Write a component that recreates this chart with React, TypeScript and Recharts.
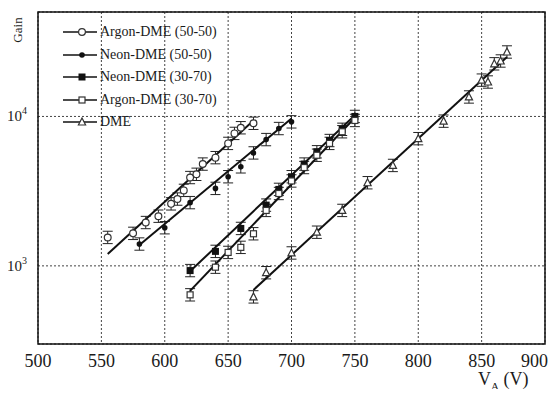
import React from 'react';
import {
  ComposedChart,
  Scatter,
  XAxis,
  YAxis,
  CartesianGrid,
  ErrorBar,
  ReferenceArea,
  Legend,
  Customized,
} from 'recharts';

const FONT = '"Liberation Serif", "DejaVu Serif", serif';
const INK = '#1a1a1a';

const X_TICKS = [500, 550, 600, 650, 700, 750, 800, 850, 900];
const Y_TICKS = [1000, 10000];
const Y_MINOR = [300, 400, 500, 600, 700, 800, 900, 2000, 3000, 4000, 5000, 6000, 7000, 8000, 9000, 20000, 30000, 40000, 50000];
const X_MINOR = Array.from({ length: 41 }, (_, i) => 500 + i * 10);

const SERIES_NAMES = ['Argon-DME (50-50)', 'Neon-DME (50-50)', 'Neon-DME (30-70)', 'Argon-DME (30-70)', 'DME'];

// measured points, anode voltage (V) and gain
const argon5050V = [555, 575, 585, 595, 605, 610, 615, 620, 625, 630, 640, 650, 655, 660, 670];
const argon5050Gain = [1550, 1650, 1950, 2150, 2600, 2800, 3200, 3900, 4100, 4800, 5300, 6600, 7700, 8400, 9000];
const neon5050V = [580, 600, 620, 640, 650, 660, 670, 680, 690, 700];
const neon5050Gain = [1400, 1800, 2650, 3300, 3950, 4600, 5700, 7000, 8300, 9200];
const neon3070V = [620, 640, 660, 680, 690, 700, 710, 720, 730, 740, 750];
const neon3070Gain = [930, 1250, 1780, 2550, 3250, 3950, 4800, 5800, 6900, 8200, 10000];
const argon3070V = [620, 640, 650, 660, 670, 680, 690, 700, 710, 720, 730, 740, 750];
const argon3070Gain = [640, 980, 1230, 1330, 1640, 2350, 3050, 3700, 4550, 5500, 6600, 7900, 9400];
const dmeV = [670, 680, 700, 720, 740, 760, 780, 800, 820, 840, 850, 855, 860, 865, 870];
const dmeGain = [620, 900, 1220, 1680, 2350, 3600, 4700, 7100, 9300, 13500, 17500, 17000, 22500, 23500, 27000];

// fitted lines (end points)
const argon5050FitV = [555, 670];
const argon5050FitGain = [1200, 9400];
const neon5050FitV = [580, 700];
const neon5050FitGain = [1380, 9700];
const neon3070FitV = [620, 750];
const neon3070FitGain = [920, 10200];
const argon3070FitV = [620, 750];
const argon3070FitGain = [680, 9800];
const dmeFitV = [670, 870];
const dmeFitGain = [690, 25000];

const REL_ERR = 0.1;

const toPoints = (v: number[], g: number[]) =>
  v.map((x, i) => ({ v: x, g: g[i], err: [g[i] - g[i] / (1 + REL_ERR), g[i] * REL_ERR] }));
const toFit = (v: number[], g: number[]) => v.map((x, i) => ({ v: x, g: g[i] }));

type Kind = 'openCircle' | 'dot' | 'square' | 'openSquare' | 'triangle';
const MARKERS: Kind[] = ['openCircle', 'dot', 'square', 'openSquare', 'triangle'];

const Marker = ({ kind, cx, cy }: { kind: Kind; cx: number; cy: number }) => {
  if (cx == null || cy == null) return <g />;
  switch (kind) {
    case 'openCircle':
      return <circle cx={cx} cy={cy} r={3.4} fill="#fff" stroke="#333" strokeWidth={1.2} />;
    case 'dot':
      return <circle cx={cx} cy={cy} r={2.8} fill="#111" />;
    case 'square':
      return <rect x={cx - 3.5} y={cy - 3.5} width={7} height={7} fill="#111" />;
    case 'openSquare':
      return <rect x={cx - 3} y={cy - 3} width={6} height={6} fill="#fff" stroke="#333" strokeWidth={1.2} />;
    default:
      return (
        <polygon
          points={`${cx},${cy - 4} ${cx - 3.6},${cy + 3} ${cx + 3.6},${cy + 3}`}
          fill="#fff"
          stroke="#333"
          strokeWidth={1.2}
        />
      );
  }
};

const PowTick = (props: any) => {
  const { x, y, payload } = props;
  const exp = Math.round(Math.log10(payload.value));
  return (
    <text x={x - 3} y={y + 5} textAnchor="end" fontFamily={FONT} fontSize={15} fill={INK}>
      10
      <tspan fontSize={10} dy={-7}>
        {exp}
      </tspan>
    </text>
  );
};

const LegendBox = () => (
  <div style={{ fontFamily: FONT, fontSize: 14, color: INK }}>
    {SERIES_NAMES.map((name, i) => (
      <div key={name} style={{ display: 'flex', alignItems: 'center', height: 22.5 }}>
        <svg width={36} height={10} style={{ flex: 'none' }}>
          <line x1={0} y1={5} x2={34} y2={5} stroke="#111" strokeWidth={1.6} />
          <Marker kind={MARKERS[i]} cx={19} cy={5} />
        </svg>
        <span style={{ marginLeft: 1, whiteSpace: 'nowrap' }}>{name}</span>
      </div>
    ))}
  </div>
);

const AxisTitles = () => (
  <g fontFamily={FONT} fill={INK}>
    <text transform="translate(9,22) rotate(-90)" textAnchor="middle" fontSize={13} dy="0.35em">
      Gain
    </text>
    <text x={470} y={377} fontSize={18}>
      V
      <tspan fontSize={11} dx={0} dy={5}>
        A
      </tspan>
      <tspan dy={-5}> (V)</tspan>
    </text>
  </g>
);

const points = [
  toPoints(argon5050V, argon5050Gain),
  toPoints(neon5050V, neon5050Gain),
  toPoints(neon3070V, neon3070Gain),
  toPoints(argon3070V, argon3070Gain),
  toPoints(dmeV, dmeGain),
];
const fits = [
  toFit(argon5050FitV, argon5050FitGain),
  toFit(neon5050FitV, neon5050FitGain),
  toFit(neon3070FitV, neon3070FitGain),
  toFit(argon3070FitV, argon3070FitGain),
  toFit(dmeFitV, dmeFitGain),
];

const minorTick = { stroke: '#333', strokeWidth: 1 };

export default function App() {
  return (
    <div style={{ marginBottom: -8 }}>
      <ComposedChart width={540} height={389} margin={{ top: 4, right: 3, left: 0, bottom: 0 }}>
        <XAxis xAxisId="minorB" type="number" domain={[500, 900]} ticks={X_MINOR} allowDataOverflow
          mirror height={0} tick={false} tickSize={4} axisLine={false} tickLine={minorTick} />
        <XAxis xAxisId="minorT" orientation="top" type="number" domain={[500, 900]} ticks={X_MINOR} allowDataOverflow
          mirror height={0} tick={false} tickSize={4} axisLine={false} tickLine={minorTick} />
        <YAxis yAxisId="minorL" type="number" scale="log" domain={[300, 50000]} ticks={Y_MINOR} allowDataOverflow
          mirror width={0} tick={false} tickSize={4} axisLine={false} tickLine={minorTick} />
        <YAxis yAxisId="minorR" orientation="right" type="number" scale="log" domain={[300, 50000]} ticks={Y_MINOR}
          allowDataOverflow mirror width={0} tick={false} tickSize={4} axisLine={false} tickLine={minorTick} />
        <XAxis
          xAxisId="main"
          type="number"
          dataKey="v"
          domain={[500, 900]}
          ticks={X_TICKS}
          allowDataOverflow
          height={53}
          tickLine={false}
          axisLine={false}
          tickMargin={4}
          tick={{ fontSize: 18, fontFamily: FONT, fill: INK }}
        />
        <YAxis
          yAxisId="main"
          type="number"
          dataKey="g"
          scale="log"
          domain={[300, 50000]}
          ticks={Y_TICKS}
          allowDataOverflow
          width={30}
          tickLine={false}
          axisLine={false}
          tick={<PowTick />}
        />
        <CartesianGrid xAxisId="main" yAxisId="main" stroke="#444" strokeDasharray="2 2" />
        <ReferenceArea xAxisId="main" yAxisId="main" x1={500} x2={900} y1={300} y2={50000}
          fill="none" fillOpacity={0} stroke="#111" strokeWidth={1.5} />
        {fits.map((f, i) => (
          <Scatter
            key={`fit-${i}`}
            xAxisId="main"
            yAxisId="main"
            data={f}
            line={{ stroke: '#111', strokeWidth: 2 }}
            shape={() => <g />}
            legendType="none"
            isAnimationActive={false}
          />
        ))}
        {points.map((p, i) => (
          <Scatter
            key={`pts-${i}`}
            name={SERIES_NAMES[i]}
            xAxisId="main"
            yAxisId="main"
            data={p}
            shape={(s: any) => <Marker kind={MARKERS[i]} cx={s.cx} cy={s.cy} />}
            isAnimationActive={false}
          >
            <ErrorBar dataKey="err" direction="y" width={5} stroke="#222" strokeWidth={1} />
          </Scatter>
        ))}
        <Legend
          layout="vertical"
          align="center"
          verticalAlign="middle"
          content={<LegendBox />}
          wrapperStyle={{ left: 55, top: 13, width: 200, height: 115 }}
        />
        <Customized component={AxisTitles} />
      </ComposedChart>
    </div>
  );
}
